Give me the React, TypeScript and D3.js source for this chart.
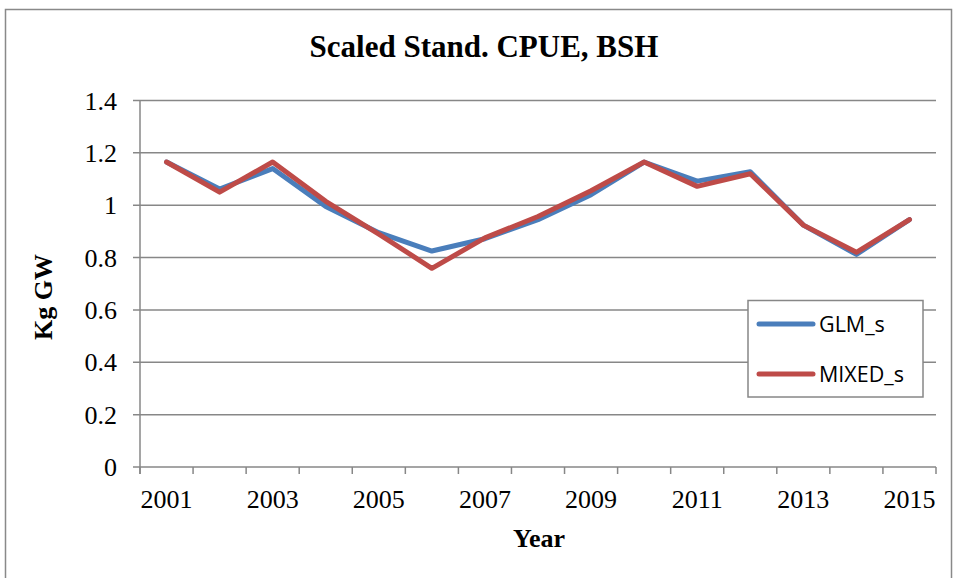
import React, { useEffect, useRef } from "react";
import * as d3 from "d3";

const years = [2001, 2002, 2003, 2004, 2005, 2006, 2007, 2008, 2009, 2010, 2011, 2012, 2013, 2014, 2015];
const glm = [1.165, 1.062, 1.14, 0.995, 0.895, 0.825, 0.872, 0.945, 1.04, 1.165, 1.092, 1.128, 0.924, 0.812, 0.945];
const mixed = [1.165, 1.05, 1.165, 1.015, 0.89, 0.759, 0.875, 0.957, 1.055, 1.165, 1.072, 1.12, 0.924, 0.82, 0.945];
const yTicks = [0, 0.2, 0.4, 0.6, 0.8, 1, 1.2, 1.4];

const App = () => {
  const svgRef = useRef<SVGSVGElement>(null);

  useEffect(() => {
    const svg = d3.select(svgRef.current);
    svg.selectAll("*").remove();

    const serif = "'Liberation Serif', 'Times New Roman', serif";
    const gridColor = "#878787";

    // chart border
    svg.append("rect")
      .attr("x", 5.5).attr("y", 9.5)
      .attr("width", 946).attr("height", 580)
      .attr("fill", "white")
      .attr("stroke", "#898989")
      .attr("stroke-width", 1.5);

    const x = d3.scaleBand<number>().domain(years).range([140, 936]).padding(0);
    const y = d3.scaleLinear().domain([0, 1.4]).range([467, 100.5]);
    const cx = (yr: number) => (x(yr) as number) + x.bandwidth() / 2;

    // gridlines + y labels
    yTicks.forEach(t => {
      svg.append("line")
        .attr("x1", 133).attr("x2", 936)
        .attr("y1", y(t)).attr("y2", y(t))
        .attr("stroke", gridColor).attr("stroke-width", 1.5);
      svg.append("text")
        .attr("x", 117).attr("y", y(t))
        .attr("dy", "0.35em")
        .attr("text-anchor", "end")
        .style("font-family", serif)
        .style("font-size", "26px")
        .text(d3.format("")(+t.toFixed(1)));
    });

    // y axis line
    svg.append("line")
      .attr("x1", 140).attr("x2", 140)
      .attr("y1", y(1.4)).attr("y2", y(0) + 7)
      .attr("stroke", gridColor).attr("stroke-width", 1.5);

    // x tick marks at band boundaries
    const bounds = years.map(yr => x(yr) as number).concat([936]);
    bounds.forEach(b => {
      svg.append("line")
        .attr("x1", b).attr("x2", b)
        .attr("y1", y(0)).attr("y2", y(0) + 7)
        .attr("stroke", gridColor).attr("stroke-width", 1.5);
    });

    // x labels (every other year)
    years.filter((_, i) => i % 2 === 0).forEach(yr => {
      svg.append("text")
        .attr("x", cx(yr)).attr("y", 508)
        .attr("text-anchor", "middle")
        .style("font-family", serif)
        .style("font-size", "26px")
        .text(yr);
    });

    // titles
    svg.append("text")
      .attr("x", 484).attr("y", 57)
      .attr("text-anchor", "middle")
      .style("font-family", serif)
      .style("font-weight", "bold")
      .style("font-size", "31px")
      .text("Scaled Stand. CPUE, BSH");

    svg.append("text")
      .attr("x", 539).attr("y", 547)
      .attr("text-anchor", "middle")
      .style("font-family", serif)
      .style("font-weight", "bold")
      .style("font-size", "26px")
      .text("Year");

    svg.append("text")
      .attr("transform", "translate(52,297) rotate(-90)")
      .attr("text-anchor", "middle")
      .style("font-family", serif)
      .style("font-weight", "bold")
      .style("font-size", "26px")
      .text("Kg GW");

    // lines
    const series = [
      { name: "GLM_s", values: glm, color: "#4A7EBB" },
      { name: "MIXED_s", values: mixed, color: "#BE4B48" },
    ];
    const line = d3.line<number>()
      .x((_, i) => cx(years[i]))
      .y(d => y(d));

    series.forEach(s => {
      svg.append("path")
        .datum(s.values)
        .attr("fill", "none")
        .attr("stroke", s.color)
        .attr("stroke-width", 5)
        .attr("stroke-linejoin", "round")
        .attr("stroke-linecap", "round")
        .attr("d", line);
    });

    // legend
    const lg = svg.append("g");
    lg.append("rect")
      .attr("x", 748).attr("y", 300.5)
      .attr("width", 175).attr("height", 96.5)
      .attr("fill", "white")
      .attr("stroke", gridColor).attr("stroke-width", 1.5);
    series.forEach((s, i) => {
      const ly = 324 + i * 50;
      lg.append("line")
        .attr("x1", 759).attr("x2", 813)
        .attr("y1", ly).attr("y2", ly)
        .attr("stroke", s.color).attr("stroke-width", 5)
        .attr("stroke-linecap", "round");
      lg.append("text")
        .attr("x", 819).attr("y", ly)
        .attr("dy", "0.36em")
        .style("font-family", "'Open Sans', 'Noto Sans', sans-serif")
        .style("font-size", "21.5px")
        .text(s.name);
    });
  }, []);

  return (
    <svg
      ref={svgRef}
      width={956}
      height={578}
      style={{ position: "absolute", left: 0, top: 0, background: "white" }}
    />
  );
};

export default App;
